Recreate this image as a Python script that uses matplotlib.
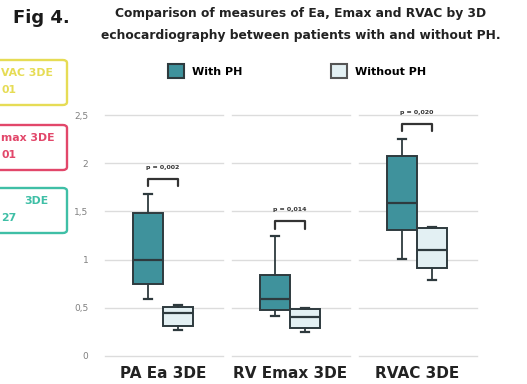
import matplotlib.pyplot as plt
from matplotlib.patches import Patch, FancyBboxPatch

categories = ['PA Ea 3DE', 'RV Emax 3DE', 'RVAC 3DE']

# five-number summaries, with PH
ph_low = [0.59, 0.42, 1.01]
ph_q1 = [0.75, 0.48, 1.31]
ph_med = [1.00, 0.59, 1.59]
ph_q3 = [1.48, 0.84, 2.07]
ph_high = [1.68, 1.24, 2.25]

# five-number summaries, without PH
noph_low = [0.27, 0.25, 0.79]
noph_q1 = [0.31, 0.29, 0.91]
noph_med = [0.45, 0.40, 1.10]
noph_q3 = [0.51, 0.49, 1.33]
noph_high = [0.53, 0.50, 1.34]

p_values = ['0,002', '0,014', '0,020']

yticks = [0, 0.5, 1, 1.5, 2, 2.5]
ytick_labels = ['0', '0,5', '1', '1,5', '2', '2,5']

# side boxes, only their right part is on the page
side_lines1 = ['VAC 3DE', 'max 3DE', '3DE']
side_lines2 = ['01', '01', '27']
side_x1 = [1, 1, 24]
side_colors = ['#e6dc55', '#e2476a', '#3fbfa6']

ph_color = '#3f929c'
noph_color = '#e3f0f3'
edge_color = '#2e3a3e'
grid_color = '#dcdcdc'

W, H = 527, 384
fig = plt.figure(figsize=(W / 100, H / 100), dpi=100)
ax = fig.add_axes([99.5 / W, 1 - 360.8 / H, 381 / W, 255.4 / H])


def stats(low, q1, med, q3, high):
    return [dict(whislo=a, q1=b, med=c, q3=d, whishi=e, fliers=[])
            for a, b, c, d, e in zip(low, q1, med, q3, high)]


pos = list(range(len(categories)))
off = 0.118
bw = 0.232

for st, shift, fc in [(stats(ph_low, ph_q1, ph_med, ph_q3, ph_high), -off, ph_color),
                      (stats(noph_low, noph_q1, noph_med, noph_q3, noph_high), off, noph_color)]:
    ax.bxp(st, positions=[p + shift for p in pos], widths=bw, patch_artist=True,
           showfliers=False,
           boxprops=dict(facecolor=fc, edgecolor=edge_color, linewidth=1.4),
           medianprops=dict(color=edge_color, linewidth=1.6),
           whiskerprops=dict(color=edge_color, linewidth=1.3),
           capprops=dict(color=edge_color, linewidth=1.6),
           capwidths=0.06, zorder=3)

# segmented horizontal grid, one segment per category
for y in yticks:
    for p in pos:
        ax.plot([p - 0.46, p + 0.47], [y, y], color=grid_color, lw=1.0, zorder=1)

# significance brackets
for p, hi, pv in zip(pos, ph_high, p_values):
    top = hi + 0.16
    x0, x1 = p - off, p + off
    ax.plot([x0, x0, x1, x1], [top - 0.08, top, top, top - 0.08],
            color='#333333', lw=1.6, solid_joinstyle='round',
            solid_capstyle='round', zorder=4, clip_on=False)
    ax.text(p, top + 0.12, 'p = ' + pv, ha='center', va='center',
            fontsize=4.5, fontweight='bold', color='#333333')

ax.set_xlim(-0.5, 2.5)
ax.set_ylim(-0.05, 2.6)
ax.set_xticks(pos)
ax.set_xticklabels(categories, fontsize=11, fontweight='bold', color='#222222')
ax.set_yticks(yticks)
ax.set_yticklabels(ytick_labels, fontsize=6.5, color='#808080')
ax.tick_params(length=0, axis='both')
ax.tick_params(axis='x', pad=4)
ax.tick_params(axis='y', pad=8)
for s in ax.spines.values():
    s.set_visible(False)

# title
fig.text(13 / W, 1 - 18 / H, 'Fig 4.', fontsize=13, fontweight='bold',
         ha='left', va='center', color='#1a1a1a')
fig.text(301 / W, 1 - 13 / H, 'Comparison of measures of Ea, Emax and RVAC by 3D',
         fontsize=8.8, fontweight='bold', ha='center', va='center', color='#222222')
fig.text(301 / W, 1 - 35 / H, 'echocardiography between patients with and without PH.',
         fontsize=8.8, fontweight='bold', ha='center', va='center', color='#222222')

# legend
handles = [Patch(facecolor=ph_color, edgecolor=edge_color, linewidth=1.5, label='With PH'),
           Patch(facecolor=noph_color, edgecolor='#555555', linewidth=1.5, label='Without PH')]
fig.legend(handles=handles, loc='center', bbox_to_anchor=(297 / W, 1 - 71 / H),
           ncol=2, frameon=False, handlelength=1.45, handleheight=1.45,
           columnspacing=8.0, handletextpad=0.7,
           prop=dict(size=8, weight='bold'))

# boxes on the left
tops = [60, 125, 188]
for top, l1, l2, x1, c in zip(tops, side_lines1, side_lines2, side_x1, side_colors):
    h = 45
    fig.patches.append(FancyBboxPatch((-20 / W, 1 - (top + h) / H), 87 / W, h / H,
                                      boxstyle='round,pad=0,rounding_size=0.008',
                                      transform=fig.transFigure, fill=False,
                                      edgecolor=c, linewidth=1.7))
    fig.text(x1 / W, 1 - (top + 13) / H, l1, ha='left', va='center',
             fontsize=7.8, fontweight='bold', color=c)
    fig.text(1 / W, 1 - (top + 30) / H, l2, ha='left', va='center',
             fontsize=7.8, fontweight='bold', color=c)

fig.savefig('out.png', dpi=100)
